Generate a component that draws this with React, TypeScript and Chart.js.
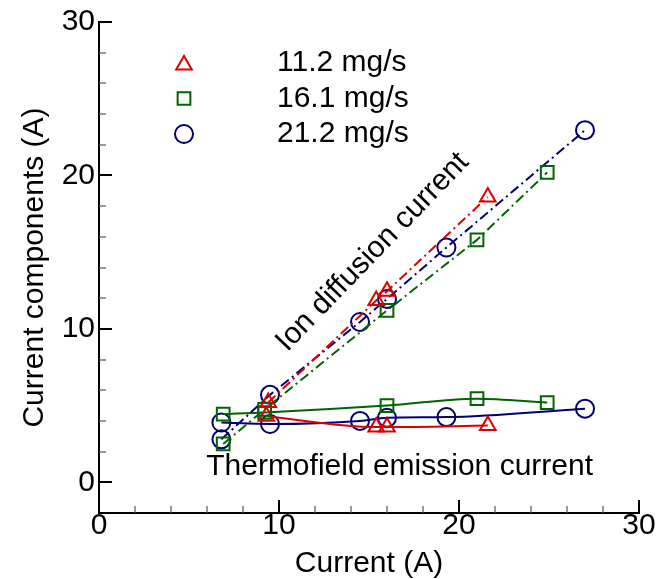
import React, { useEffect, useRef } from "react";
import { Chart, registerables } from "chart.js";

Chart.register(...registerables);

// ---- data ----
const seriesLabels = ["11.2 mg/s", "16.1 mg/s", "21.2 mg/s"];
const seriesColors = ["#dd0000", "#006400", "#000070"];
const seriesMarkers = ["triangle", "rect", "circle"];

// 11.2 mg/s
const ionX11 = [9.4, 15.4, 16.0, 21.6];
const ionY11 = [5.2, 11.85, 12.45, 18.6];
const thermoX11 = [9.3, 15.4, 16.0, 21.6];
const thermoY11 = [4.3, 3.6, 3.6, 3.7];

// 16.1 mg/s
const ionX16 = [6.9, 9.2, 16.0, 21.0, 24.9];
const ionY16 = [2.5, 4.75, 11.2, 15.8, 20.2];
const thermoX16 = [6.9, 9.2, 16.0, 21.0, 24.9];
const thermoY16 = [4.45, 4.55, 5.0, 5.45, 5.2];

// 21.2 mg/s
const ionX21 = [6.8, 9.5, 14.5, 16.0, 19.3, 27.0];
const ionY21 = [2.8, 5.7, 10.45, 11.95, 15.3, 22.95];
const thermoX21 = [6.8, 9.5, 14.5, 16.0, 19.3, 27.0];
const thermoY21 = [3.9, 3.8, 4.0, 4.2, 4.25, 4.8];

const xTickLabels = ["0", "10", "20", "30"];
const yTickLabels = ["0", "10", "20", "30"];

const annotationTexts = ["Ion diffusion current", "Thermofield emission current"];
const annotationX = [15.2, 16.7];
const annotationY = [15.0, 1.0];
const annotationAngle = [-46, 0];

const X_MIN = 0;
const X_MAX = 30;
const Y_MIN = -2;
const Y_MAX = 30;

const FONT = "'Liberation Sans', Arial, Helvetica, sans-serif";
const FS = 30;

function pts(xs: number[], ys: number[]) {
  return xs.map((x, i) => ({ x, y: ys[i] }));
}

function makeSet(idx: number, xs: number[], ys: number[], ion: boolean) {
  const c = seriesColors[idx];
  return {
    label: seriesLabels[idx] + (ion ? " ion" : " thermo"),
    data: pts(xs, ys),
    borderColor: c,
    backgroundColor: "rgba(0,0,0,0)",
    pointBorderColor: c,
    pointBackgroundColor: "rgba(0,0,0,0)",
    pointStyle: seriesMarkers[idx],
    pointRadius: 9,
    pointBorderWidth: 2,
    borderWidth: 2,
    borderDash: ion ? [10, 4, 2, 4] : [],
    cubicInterpolationMode: ion ? "default" : "monotone",
    tension: ion ? 0 : 0.4,
    fill: false,
    showLine: true,
  };
}

function drawMarker(ctx: CanvasRenderingContext2D, style: string, x: number, y: number, r: number) {
  ctx.beginPath();
  if (style === "circle") {
    ctx.arc(x, y, r, 0, Math.PI * 2);
  } else if (style === "rect") {
    const s = r * Math.SQRT1_2;
    ctx.rect(x - s, y - s, 2 * s, 2 * s);
  } else {
    const w = r * Math.sqrt(3) / 2;
    ctx.moveTo(x, y - r);
    ctx.lineTo(x + w, y + r / 2);
    ctx.lineTo(x - w, y + r / 2);
    ctx.closePath();
  }
  ctx.stroke();
}

const decorPlugin = {
  id: "decor",
  afterDatasetsDraw(chart: any) {
    const { ctx, chartArea, scales } = chart;
    const xs = scales.x;
    const ys = scales.y;
    ctx.save();
    ctx.strokeStyle = "#000";
    // inward ticks
    for (const t of xs.ticks) {
      if (t.value <= X_MIN) continue;
      const major = t.value % 10 === 0;
      const px = Math.round(xs.getPixelForValue(t.value));
      ctx.lineWidth = major ? 2 : 1.2;
      ctx.strokeStyle = major ? "#000" : "#555";
      ctx.beginPath();
      ctx.moveTo(px, chartArea.bottom);
      ctx.lineTo(px, chartArea.bottom - (major ? 13 : 7));
      ctx.stroke();
    }
    for (const t of ys.ticks) {
      if (t.value <= Y_MIN) continue;
      const major = t.value % 10 === 0;
      const py = Math.round(ys.getPixelForValue(t.value));
      ctx.lineWidth = major ? 2 : 1.2;
      ctx.strokeStyle = major ? "#000" : "#555";
      ctx.beginPath();
      ctx.moveTo(chartArea.left, py);
      ctx.lineTo(chartArea.left + (major ? 13 : 7), py);
      ctx.stroke();
    }
    // annotations
    ctx.fillStyle = "#000";
    ctx.font = `${FS}px ${FONT}`;
    ctx.textAlign = "center";
    ctx.textBaseline = "middle";
    annotationTexts.forEach((txt, i) => {
      const px = xs.getPixelForValue(annotationX[i]);
      const py = ys.getPixelForValue(annotationY[i]);
      ctx.save();
      ctx.translate(px, py);
      ctx.rotate((annotationAngle[i] * Math.PI) / 180);
      ctx.fillText(txt, 0, 0);
      ctx.restore();
    });
    // legend
    const mx = chartArea.left + 85;
    const tx = chartArea.left + 178;
    const y0 = chartArea.top + 41;
    const dy = 35.5;
    ctx.textAlign = "left";
    seriesLabels.forEach((lab, i) => {
      const y = y0 + i * dy;
      ctx.strokeStyle = seriesColors[i];
      ctx.lineWidth = 2;
      ctx.setLineDash([]);
      drawMarker(ctx, seriesMarkers[i], mx, seriesMarkers[i] === "triangle" ? y + 2 : y, 9);
      ctx.fillStyle = "#000";
      ctx.fillText(lab, tx, y);
    });
    ctx.restore();
  },
};

export default function App() {
  const ref = useRef<HTMLCanvasElement>(null);
  useEffect(() => {
    if (!ref.current) return;
    const datasets = [
      makeSet(0, ionX11, ionY11, true),
      makeSet(1, ionX16, ionY16, true),
      makeSet(2, ionX21, ionY21, true),
      makeSet(0, thermoX11, thermoY11, false),
      makeSet(1, thermoX16, thermoY16, false),
      makeSet(2, thermoX21, thermoY21, false),
    ];
    const tickFont = { family: FONT, size: FS, lineHeight: 1 };
    const chart = new Chart(ref.current, {
      type: "scatter",
      data: { datasets: datasets as any },
      options: {
        animation: false,
        responsive: true,
        maintainAspectRatio: false,
        layout: { padding: { top: 22, right: 28, left: 0, bottom: 0 } },
        plugins: {
          legend: { display: false },
          tooltip: { enabled: false },
        },
        scales: {
          x: {
            type: "linear",
            min: X_MIN,
            max: X_MAX,
            afterFit: (s: any) => {
              s.height = 66;
            },
            grid: { display: false, drawTicks: false, tickLength: 0 },
            border: { display: true, color: "#000", width: 2 },
            ticks: {
              stepSize: 2,
              autoSkip: false,
              maxRotation: 0,
              maxTicksLimit: 100,
              padding: -2,
              color: "#000",
              font: tickFont,
              callback: (v: any) => {
                const i = xTickLabels.indexOf(String(v));
                return i >= 0 ? xTickLabels[i] : "";
              },
            },
            title: {
              display: true,
              text: "Current (A)",
              color: "#000",
              font: tickFont,
              padding: { top: 0, bottom: 0 },
            },
          },
          y: {
            type: "linear",
            min: Y_MIN,
            max: Y_MAX,
            afterFit: (s: any) => {
              s.width = 99;
            },
            grid: { display: false, drawTicks: false, tickLength: 0 },
            border: { display: true, color: "#000", width: 2 },
            ticks: {
              stepSize: 2,
              autoSkip: false,
              maxTicksLimit: 100,
              padding: 4,
              color: "#000",
              font: tickFont,
              callback: (v: any) => {
                const i = yTickLabels.indexOf(String(v));
                return i >= 0 ? yTickLabels[i] : "";
              },
            },
            title: {
              display: true,
              text: "Current components (A)",
              color: "#000",
              font: tickFont,
              padding: { top: 20, bottom: 0 },
            },
          },
        },
      },
      plugins: [decorPlugin],
    });
    return () => chart.destroy();
  }, []);
  return (
    <div style={{ position: "fixed", left: 0, top: 0, width: 667, height: 579, background: "#fff" }}>
      <canvas ref={ref} />
    </div>
  );
}
